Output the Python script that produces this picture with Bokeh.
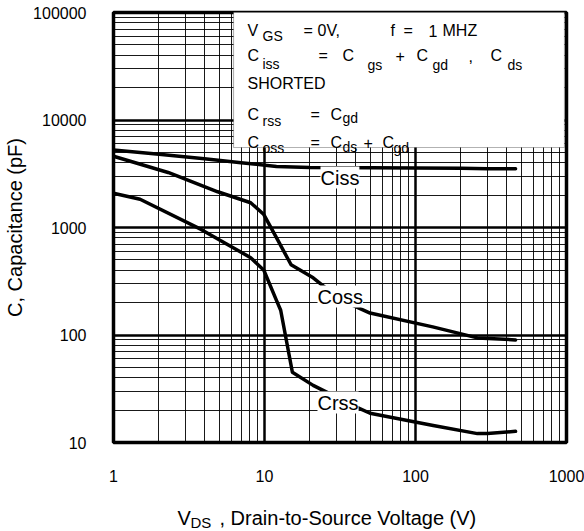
from bokeh.plotting import figure
from bokeh.models import Range1d, FixedTicker, NumeralTickFormatter, Label, BoxAnnotation
from bokeh.layouts import column
from bokeh.embed import file_html
from bokeh.resources import INLINE

# ---- data ----
vds_ciss = [1, 2, 4, 7, 12, 20, 50, 100, 200, 300, 460]
ciss = [5250, 4800, 4350, 4000, 3700, 3620, 3600, 3580, 3560, 3520, 3520]

vds_coss = [1, 2.3, 4.9, 8.1, 9.9, 12.2, 15, 21, 32, 50, 130, 257, 460]
coss = [4600, 3250, 2150, 1700, 1320, 770, 450, 340, 212, 160, 119, 94, 90]

vds_crss = [1, 1.5, 3.8, 8.1, 9.9, 12.0, 12.8, 15.3, 21, 41, 50, 131, 257, 300, 460]
crss = [2080, 1830, 960, 524, 400, 210, 170, 45, 34, 21.2, 18.7, 14.4, 12.1, 12.1, 12.7]

x_major = [1, 10, 100, 1000]
x_minor = [m * d for d in (1, 10, 100) for m in range(2, 10)]
y_major = [10, 100, 1000, 10000, 100000]
y_minor = [m * d for d in (10, 100, 1000, 10000) for m in range(2, 10)]

FONT = "Liberation Sans"
W, H_MAIN, H_TITLE = 584, 495, 36

# frame: canvas x 113..566, y 12..442
FL, FB = 113, 442


def sx(cx):
    return cx - FL


def sy(cy):
    return FB - cy


p = figure(width=W, height=H_MAIN, x_axis_type="log", y_axis_type="log",
           x_range=Range1d(1, 1000), y_range=Range1d(10, 100000),
           output_backend="svg", toolbar_location=None, align="start",
           min_border_left=113, min_border_right=18, min_border_top=12, min_border_bottom=H_MAIN - FB)

p.background_fill_color = "white"
p.border_fill_color = "white"
p.outline_line_color = "black"
p.outline_line_width = 3.5

p.xaxis.ticker = FixedTicker(ticks=x_major, minor_ticks=x_minor)
p.yaxis.ticker = FixedTicker(ticks=y_major, minor_ticks=y_minor)
p.xaxis.formatter = NumeralTickFormatter(format="0")
p.yaxis.formatter = NumeralTickFormatter(format="0")

for ax in (p.xaxis, p.yaxis):
    ax.axis_line_color = None
    ax.major_tick_line_color = None
    ax.minor_tick_line_color = None
    ax.major_label_text_font = FONT
    ax.major_label_text_font_size = "16px"
    ax.major_label_text_color = "black"

p.xaxis.major_label_standoff = 21
p.yaxis.major_label_standoff = 21
p.yaxis.axis_label = "C, Capacitance (pF)"
p.yaxis.axis_label_text_font = FONT
p.yaxis.axis_label_text_font_size = "20px"
p.yaxis.axis_label_text_font_style = "normal"
p.yaxis.axis_label_text_color = "black"
p.yaxis.axis_label_standoff = 4

for g in (p.xgrid, p.ygrid):
    g.grid_line_color = "black"
    g.grid_line_width = 2.5
    g.grid_line_alpha = 1.0
    g.minor_grid_line_color = "black"
    g.minor_grid_line_width = 1
    g.minor_grid_line_alpha = 0.9

for xs, ys in ((vds_ciss, ciss), (vds_coss, coss), (vds_crss, crss)):
    p.line(xs, ys, line_color="black", line_width=3.5, line_join="round", line_cap="round")

# legend box
p.add_layout(BoxAnnotation(left=sx(233), right=sx(564), top=sy(10), bottom=sy(147),
                           left_units="screen", right_units="screen",
                           top_units="screen", bottom_units="screen",
                           fill_color="white", fill_alpha=1.0,
                           line_color="black", line_width=1.2, level="annotation"))


def txt(fig, s, x, y, size=16, bg=None):
    kw = {}
    if bg:
        kw = dict(background_fill_color=bg, background_fill_alpha=1.0)
    fig.add_layout(Label(x=x, y=y, x_units="screen", y_units="screen", text=s,
                         text_font=FONT, text_font_size=f"{size}px", text_color="black",
                         text_align="left", text_baseline="alphabetic", **kw))


def ptxt(s, cx, cy, size=16, bg=None):
    txt(p, s, sx(cx), sy(cy), size, bg)


M, S = 16, 14
# line 1
ptxt("V", 247, 30, M); ptxt("GS", 262, 35, S); ptxt("=", 303, 30, M); ptxt("0V,", 317, 30, M)
ptxt("f", 390, 30, M); ptxt("=", 403, 30, M); ptxt("1", 428, 30, M); ptxt("MHZ", 442, 30, M)
# line 2
ptxt("C", 247, 55, M); ptxt("iss", 262, 63, S); ptxt("=", 318, 55, M); ptxt("C", 342, 55, M)
ptxt("gs", 367, 64, S); ptxt("+", 395, 55, M); ptxt("C", 416, 55, M); ptxt("gd", 432, 64, S)
ptxt(",", 468, 55, M); ptxt("C", 490, 55, M); ptxt("ds", 507, 64, S)
# line 3
ptxt("SHORTED", 247, 83, M)
# line 4
ptxt("C", 247, 114, M); ptxt("rss", 262, 120, S); ptxt("=", 310, 114, M); ptxt("C", 330, 114, M)
ptxt("gd", 342, 117, S)
# line 5
ptxt("C", 247, 142, M); ptxt("oss", 262, 147, S); ptxt("=", 310, 142, M); ptxt("C", 330, 142, M)
ptxt("ds", 342, 146, S); ptxt("+", 363, 142, M); ptxt("C", 382, 142, M); ptxt("gd", 393, 147, S)

# curve labels
ptxt("Ciss", 320, 177, 20, bg="white")
ptxt("Coss", 317, 296, 20, bg="white")
ptxt("Crss", 317, 402, 20, bg="white")

# ---- x-axis title strip (its frame is aligned with the main frame: x 113..566) ----
t = figure(width=W, height=H_TITLE, x_range=Range1d(0, W), y_range=Range1d(0, H_TITLE),
           x_axis_location=None, y_axis_location=None, align="start",
           output_backend="svg", toolbar_location=None,
           min_border=0, min_border_left=0, min_border_right=0, min_border_top=0, min_border_bottom=0)
t.grid.visible = False
t.outline_line_color = None
t.background_fill_color = "white"
t.border_fill_color = "white"

title_parts = ["V", "DS", ", Drain-to-Source Voltage (V)"]
title_x = [177, 190, 219]
title_y = [517, 522, 517]
title_size = [20, 15, 20]
for s, x, y, fs in zip(title_parts, title_x, title_y, title_size):
    txt(t, s, x - FL, H_MAIN + H_TITLE - y, fs)

layout = column(p, t, spacing=0, align="start")
open("out.html", "w").write(file_html(layout, INLINE))
